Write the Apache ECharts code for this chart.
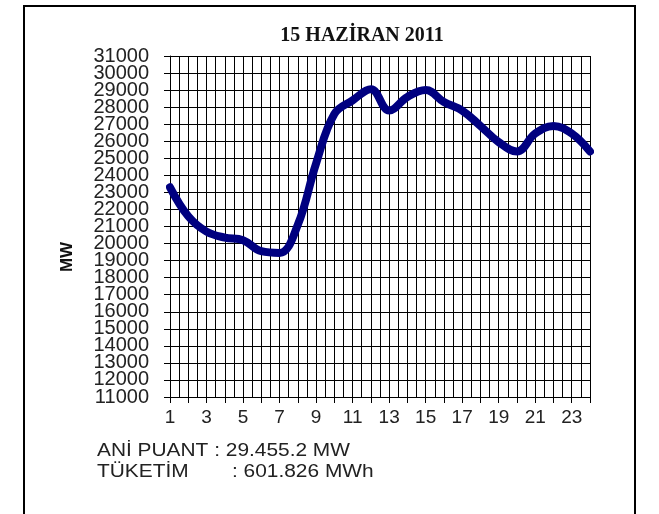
<!DOCTYPE html>
<html>
<head>
<meta charset="utf-8">
<script src="https://cdn.jsdelivr.net/npm/echarts@6/dist/echarts.min.js"></script>
<style>
  html, body { margin: 0; padding: 0; background: #fff; }
  #chart { width: 659px; height: 514px; }
</style>
</head>
<body>
<div id="chart"></div>
<script>
// saatlik yuk (MW), 15 Haziran 2011
const hours = [1, 2, 3, 4, 5, 6, 7, 8, 9, 10, 11, 12, 13, 14, 15, 16, 17, 18, 19, 20, 21, 22, 23, 24];
const loadMW = [23300, 21600, 20700, 20350, 20200, 19550, 19450, 21100, 24700, 27600, 28400, 29050,
                27800, 28600, 29000, 28300, 27800, 26900, 25950, 25400, 26450, 26900, 26450, 25400];
const yTicks = [11000, 31000, 1000]; // min, max, step

const myChart = echarts.init(document.getElementById('chart'), null, { renderer: 'canvas' });

const textColor = '#222';
const sans = '"Liberation Sans", Arial, sans-serif';

// y etiketleri sik oldugu icin iki eksene bolunuyor (tek / cift binler)
function yLabel(odd) {
  return {
    margin: 21,
    fontFamily: sans,
    fontSize: 20,
    color: textColor,
    showMinLabel: odd,
    showMaxLabel: odd,
    formatter(v) {
      return ((v / 1000) % 2 === 1) === odd ? String(v) : '';
    }
  };
}

let option = {
  backgroundColor: '#fff',
  animation: false,
  title: {
    text: '15 HAZİRAN 2011',
    left: 357,
    top: 21,
    textAlign: 'center',
    textStyle: {
      fontFamily: '"Liberation Serif", "Times New Roman", serif',
      fontWeight: 'bold',
      fontSize: 20,
      color: '#111'
    }
  },
  grid: {
    left: 170,
    right: 69,
    top: 56,
    bottom: 117
  },
  xAxis: {
    type: 'value',
    min: 1,
    max: 24,
    interval: 1,
    axisLine: { show: true, lineStyle: { color: '#000', width: 1 } },
    axisTick: { show: true, inside: false, length: 6, lineStyle: { color: '#000' } },
    minorTick: { show: false, splitNumber: 2 },
    splitLine: { show: true, lineStyle: { color: '#000', width: 1 } },
    minorSplitLine: { show: true, lineStyle: { color: '#000', width: 1 } },
    axisLabel: {
      margin: 11,
      fontFamily: sans,
      fontSize: 19,
      color: textColor,
      formatter(v) {
        return v % 2 === 1 ? String(v) : '';
      }
    }
  },
  yAxis: [
    {
      type: 'value',
      position: 'left',
      min: yTicks[0],
      max: yTicks[1],
      interval: yTicks[2],
      axisLine: { show: true, lineStyle: { color: '#000', width: 1 } },
      axisTick: { show: true, inside: false, length: 6, lineStyle: { color: '#000' } },
      splitLine: { show: true, lineStyle: { color: '#000', width: 1 } },
      axisLabel: yLabel(true)
    },
    {
      type: 'value',
      position: 'left',
      offset: 0,
      min: yTicks[0],
      max: yTicks[1],
      interval: yTicks[2],
      axisLine: { show: false },
      axisTick: { show: false },
      splitLine: { show: false },
      axisLabel: yLabel(false)
    }
  ],
  series: [
    {
      name: 'MW',
      type: 'line',
      yAxisIndex: 0,
      data: hours.map((h, i) => [h, loadMW[i]]),
      smooth: 0.4,
      symbol: 'none',
      clip: false,
      lineStyle: { color: '#000080', width: 8, cap: 'round' }
    }
  ],
  graphic: [
    {
      type: 'rect',
      shape: { x: 24, y: 6, width: 611, height: 530 },
      style: { fill: 'none', stroke: '#000', lineWidth: 2 },
      z: 100
    },
    {
      type: 'text',
      x: 67,
      y: 257,
      rotation: Math.PI / 2,
      style: {
        text: 'MW',
        fontFamily: sans,
        fontWeight: 'bold',
        fontSize: 17,
        fill: '#111',
        align: 'center',
        verticalAlign: 'middle'
      }
    },
    {
      type: 'text',
      x: 97,
      y: 451,
      scaleX: 1.16,
      style: {
        text: 'ANİ PUANT : 29.455.2 MW',
        fontFamily: sans,
        fontSize: 18,
        fill: textColor,
        verticalAlign: 'middle'
      }
    },
    {
      type: 'text',
      x: 97,
      y: 472,
      scaleX: 1.16,
      style: {
        text: 'TÜKETİM',
        fontFamily: sans,
        fontSize: 18,
        fill: textColor,
        verticalAlign: 'middle'
      }
    },
    {
      type: 'text',
      x: 232,
      y: 472,
      scaleX: 1.16,
      style: {
        text: ': 601.826 MWh',
        fontFamily: sans,
        fontSize: 18,
        fill: textColor,
        verticalAlign: 'middle'
      }
    }
  ]
};

myChart.setOption(option);
</script>
</body>
</html>
